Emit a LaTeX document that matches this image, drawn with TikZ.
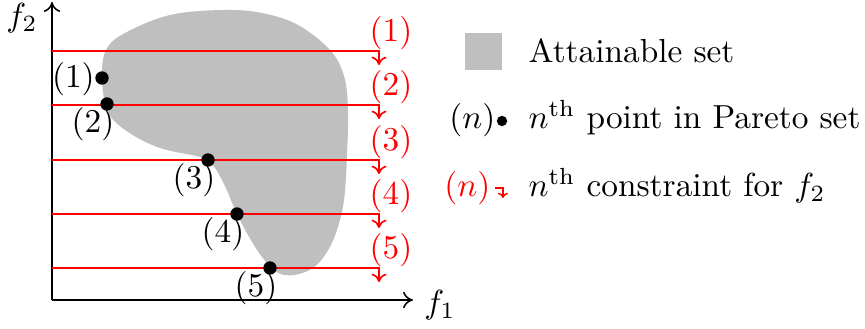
\documentclass[tikz,border=0pt]{standalone}
\usepackage{amsmath}
\usetikzlibrary{arrows.meta}
\begin{document}
\begin{tikzpicture}[x=0.3pt,y=-0.3pt,
  axis/.style={line width=0.45pt,-{To[length=3pt,width=5pt]}},
  cons/.style={red,line width=0.5pt,-{To[length=2.5pt,width=4.5pt]}},
  pt/.style={circle,fill=black,inner sep=0pt,minimum size=4pt},
  lbl/.style={inner sep=0pt},
  rlbl/.style={red,inner sep=0pt,anchor=south west}]
\useasboundingbox (0,0) rectangle (865,329);
% attainable set
\fill[gray!50] plot[smooth cycle,tension=0.6] coordinates {
 (102,78) (106,50) (125,33) (170,15) (223,10) (262,13) (298,25) (330,50)
 (344,76) (348,110) (347,155) (344,200) (337,230) (327,252) (313,268)
 (294,275) (278,273) (266,262) (252,242) (237,214) (224,184) (212,164)
 (200,157) (160,148) (128,132) (108,112)};
% axes
\coordinate (O) at (52,300);
\coordinate (xe) at (413,300);
\coordinate (ye) at (52,2);
\draw[axis] (O) -- (xe);
\draw[axis] (O) -- (ye);
\node (f1) at (440,305) {$f_1$};
\node (f2) at (22,18) {$f_2$};
% constraints
\foreach \i/\y in {1/51,2/105,3/160,4/214,5/268}{
  \coordinate (s\i) at (52,\y);
  \coordinate (c\i) at (379,\y);
  \coordinate (e\i) at (379,\y+14);
  \draw[cons] (s\i) -- (c\i) -- (e\i);
  \node[rlbl] (cl\i) at ([xshift=-3pt,yshift=0.1pt]c\i) {(\i)};
}
% pareto points
\node[pt] (p1) at (102,78) {};
\node[pt] (p2) at (107,104) {};
\node[pt] (p3) at (208,160) {};
\node[pt] (p4) at (237,214) {};
\node[pt] (p5) at (270,268) {};
\node[lbl,anchor=east] (l1) at ([xshift=0.2pt,yshift=-0.5pt]p1.west) {(1)};
\node[lbl,anchor=north east] (l2) at ([xshift=2.4pt,yshift=-0.9pt]p2.center) {(2)};
\node[lbl,anchor=north east] (l3) at ([xshift=2.4pt,yshift=-0.9pt]p3.center) {(3)};
\node[lbl,anchor=north east] (l4) at ([xshift=2.4pt,yshift=-0.9pt]p4.center) {(4)};
\node[lbl,anchor=north east] (l5) at ([xshift=2.4pt,yshift=-0.9pt]p5.center) {(5)};
% legend
\node[fill=gray!50,minimum size=11.1pt,inner sep=0pt] (lg1) at (483.5,51.5) {};
\node[anchor=base west,inner sep=0pt] (lt1) at (528,63) {Attainable set};
\node[circle,fill=black,inner sep=0pt,minimum size=3.1pt] (lgdot) at (502,121) {};
\node[anchor=base east,inner sep=0pt] (lgn) at (496,129) {$(n)$};
\node[anchor=base west,inner sep=0pt] (lt2) at (528,129) {$n^{\mathrm{th}}$ point in Pareto set};
\node[anchor=base east,inner sep=0pt,red] (lgr) at (491,197) {$(n)$};
\coordinate (la) at (495,188);
\coordinate (lb) at (503,188);
\coordinate (lc) at (503,198);
\draw[red,line width=0.45pt,-{To[length=1.6pt,width=3pt]}] (la) -- (lb) -- (lc);
\node[anchor=base west,inner sep=0pt] (lt3) at (528,197) {$n^{\mathrm{th}}$ constraint for $f_2$};
\end{tikzpicture}
\end{document}
